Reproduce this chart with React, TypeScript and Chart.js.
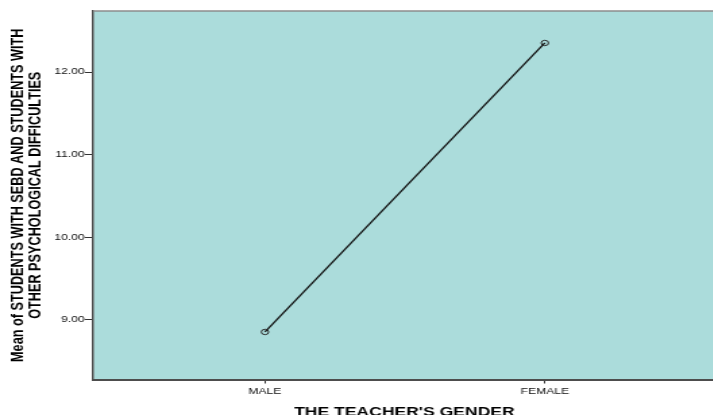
import React, { useEffect, useRef } from "react";
import { Chart, registerables } from "chart.js";

Chart.register(...registerables);

const categories: string[] = ["MALE", "FEMALE"];
const meanValues: number[] = [8.855, 12.351];
const yTickValues: number[] = [9, 10, 11, 12];
const yTitleLines: string[] = [
  "Mean of STUDENTS WITH SEBD AND STUDENTS WITH",
  "OTHER PSYCHOLOGICAL DIFFICULTIES",
];
const xTitle = "THE TEACHER'S GENDER";

// The reference image is horizontally stretched and cropped on the right:
// draw on a narrower canvas, stretch via CSS, and clip it to the view width.
const VIEW_W = 713;
const VIEW_H = 415;
const STRETCH = 1.3504;
const CANVAS_W = 535;

const FONT = "'Liberation Sans', Arial, Helvetica, sans-serif";

const panelPlugin = {
  id: "panelPlugin",
  beforeDraw(chart: any) {
    const { ctx, chartArea } = chart;
    if (!chartArea) return;
    ctx.save();
    ctx.fillStyle = "#abdcdb";
    ctx.fillRect(
      chartArea.left,
      chartArea.top,
      chartArea.right - chartArea.left,
      chartArea.bottom - chartArea.top
    );
    ctx.restore();
  },
  afterDraw(chart: any) {
    const { ctx, chartArea } = chart;
    if (!chartArea) return;
    ctx.save();
    ctx.strokeStyle = "#8c8c8c";
    ctx.lineWidth = 1.5;
    ctx.beginPath();
    ctx.moveTo(chartArea.left, chartArea.top);
    ctx.lineTo(chartArea.right, chartArea.top);
    ctx.stroke();
    ctx.restore();
  },
};

export default function App() {
  const canvasRef = useRef<HTMLCanvasElement | null>(null);

  useEffect(() => {
    document.body.style.margin = "0";
    const canvas = canvasRef.current;
    if (!canvas) return;

    const chart = new Chart(canvas, {
      type: "line",
      data: {
        datasets: [
          {
            label: "Mean",
            data: meanValues.map((v, i) => ({ x: i, y: v })),
            borderColor: "#111111",
            borderWidth: 1.3,
            pointStyle: "circle",
            pointRadius: 2.7,
            pointBorderWidth: 1,
            pointBorderColor: "#2a2a2a",
            pointBackgroundColor: "rgba(0,0,0,0)",
            tension: 0,
            fill: false,
          },
        ],
      },
      options: {
        responsive: false,
        devicePixelRatio: 1,
        animation: false,
        layout: { padding: { top: 11, left: 0, right: 0, bottom: 0 } },
        plugins: {
          legend: { display: false },
          tooltip: { enabled: false },
          title: { display: false },
        },
        scales: {
          x: {
            type: "linear",
            min: -0.613,
            max: 1.609,
            afterBuildTicks: (scale: any) => {
              scale.ticks = categories.map((_, i) => ({ value: i }));
            },
            afterFit: (scale: any) => {
              scale.height = 35.5;
            },
            ticks: {
              autoSkip: false,
              maxRotation: 0,
              minRotation: 0,
              padding: 2.5,
              color: "#111111",
              font: { family: FONT, size: 9 },
              callback: (v: any) => categories[Number(v)] ?? "",
            },
            grid: {
              display: true,
              drawOnChartArea: false,
              drawTicks: true,
              tickLength: 4,
              tickColor: "#333333",
              tickWidth: 1,
            },
            border: { display: true, color: "#4d4d4d", width: 2 },
            title: {
              display: true,
              text: xTitle,
              color: "#000000",
              font: { family: FONT, size: 13, weight: "bold", lineHeight: 1.2 },
              padding: { top: 0, bottom: -5.5 },
            },
          },
          y: {
            type: "linear",
            min: 8.28,
            max: 12.738,
            afterBuildTicks: (scale: any) => {
              scale.ticks = yTickValues.map((v) => ({ value: v }));
            },
            afterFit: (scale: any) => {
              scale.width = 69.24;
            },
            ticks: {
              padding: 0,
              color: "#111111",
              font: { family: FONT, size: 9 },
              callback: (v: any) => Number(v).toFixed(2),
            },
            grid: {
              display: true,
              drawOnChartArea: false,
              drawTicks: true,
              tickLength: 6.5,
              tickColor: "#333333",
              tickWidth: 1,
            },
            border: { display: true, color: "#4d4d4d", width: 1.5 },
            title: {
              display: true,
              text: yTitleLines,
              color: "#000000",
              font: { family: FONT, size: 12.7, weight: "bold", lineHeight: 1.07 },
              padding: { top: 6.2, bottom: 0 },
            },
          },
        },
      },
      plugins: [panelPlugin],
    });

    return () => {
      chart.destroy();
    };
  }, []);

  return (
    <div style={{ width: `${VIEW_W}px`, height: `${VIEW_H}px`, overflow: "hidden" }}>
      <canvas
        ref={canvasRef}
        width={CANVAS_W}
        height={VIEW_H}
        style={{
          display: "block",
          width: `${CANVAS_W * STRETCH}px`,
          height: `${VIEW_H}px`,
        }}
      />
    </div>
  );
}
